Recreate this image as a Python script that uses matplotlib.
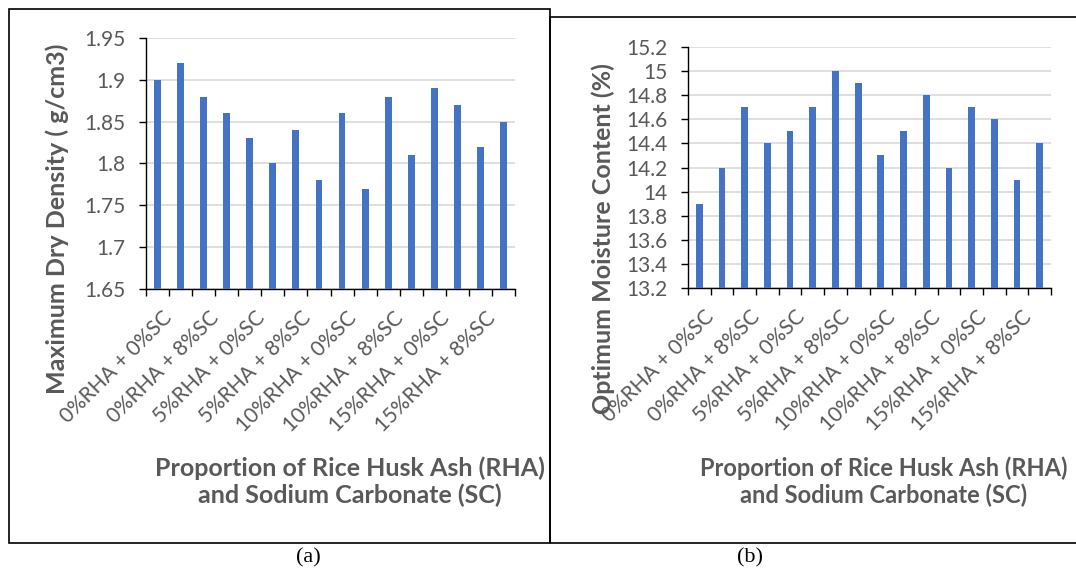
import matplotlib
matplotlib.use('Agg')
import matplotlib.pyplot as plt
from matplotlib.patches import Rectangle
from matplotlib.ticker import FixedLocator, NullFormatter
import matplotlib.transforms as mtransforms

# categories: RHA level + SC level
categorias = ['0%RHA + 0%SC', '0%RHA + 4%SC', '0%RHA + 8%SC', '0%RHA + 12%SC',
              '5%RHA + 0%SC', '5%RHA + 4%SC', '5%RHA + 8%SC', '5%RHA + 12%SC',
              '10%RHA + 0%SC', '10%RHA + 4%SC', '10%RHA + 8%SC', '10%RHA + 12%SC',
              '15%RHA + 0%SC', '15%RHA + 4%SC', '15%RHA + 8%SC', '15%RHA + 12%SC']

densidad = [1.90, 1.92, 1.88, 1.86, 1.83, 1.80, 1.84, 1.78,
            1.86, 1.77, 1.88, 1.81, 1.89, 1.87, 1.82, 1.85]

humedad = [13.9, 14.2, 14.7, 14.4, 14.5, 14.7, 15.0, 14.9,
           14.3, 14.5, 14.8, 14.2, 14.7, 14.6, 14.1, 14.4]

ticks_a = [1.65, 1.70, 1.75, 1.80, 1.85, 1.90, 1.95]
ticks_b = [13.2, 13.4, 13.6, 13.8, 14.0, 14.2, 14.4, 14.6, 14.8, 15.0, 15.2]

titulo_x = 'Proportion of Rice Husk Ash (RHA)\nand Sodium Carbonate (SC)'
titulo_a = 'Maximum Dry Density ( g/cm3)'
titulo_b = 'Optimum Moisture Content (%)'

AZUL = '#4472C4'
GRIS = '#595959'
FUENTE = 'Lato'

W, H = 1076, 574
fig = plt.figure(figsize=(W / 100, H / 100), dpi=100)


def px(x0, y0, x1, y1):
    # pixel box (top-left origin) -> figure fraction rect
    return [x0 / W, 1 - y1 / H, (x1 - x0) / W, (y1 - y0) / H]


def grafico(rect, valores, yticks, ylabel, ylab_pos, xlab_pos, xlab_size):
    ax = fig.add_axes(rect)
    n = len(valores)
    x = list(range(n))
    ax.bar(x, valores, width=0.3, color=AZUL, zorder=3)
    ax.set_xlim(-0.5, n - 0.5)
    ax.set_ylim(yticks[0], yticks[-1])
    ax.set_yticks(yticks)
    ax.set_yticklabels([f'{round(v, 2):g}' for v in yticks],
                       fontsize=15, color=GRIS, family=FUENTE)
    ax.yaxis.grid(True, color='#D9D9D9', linewidth=1.2, zorder=0)
    ax.set_axisbelow(True)

    # ticks at category boundaries, labels drawn separately
    ax.xaxis.set_major_locator(FixedLocator([i - 0.5 for i in range(n + 1)]))
    ax.xaxis.set_major_formatter(NullFormatter())
    ax.tick_params(axis='x', length=5, width=1, color='black', direction='out')
    ax.tick_params(axis='y', length=5, width=1, color='black', direction='out', pad=10)

    for s in ['top', 'right']:
        ax.spines[s].set_visible(False)
    for s in ['left', 'bottom']:
        ax.spines[s].set_color('black')
        ax.spines[s].set_linewidth(1)

    trans = mtransforms.blended_transform_factory(ax.transData, ax.transAxes)
    trans = mtransforms.offset_copy(trans, fig=fig, x=0, y=-19, units='dots')
    for i in range(0, n, 2):
        ax.text(i + 0.2, 0, categorias[i], transform=trans, rotation=45,
                rotation_mode='anchor', ha='right', va='top',
                fontsize=15, color=GRIS, family=FUENTE)

    fig.text(ylab_pos[0] / W, 1 - ylab_pos[1] / H, ylabel, rotation=90,
             ha='center', va='center', fontsize=18, fontweight='bold',
             color=GRIS, family=FUENTE)
    fig.text(xlab_pos[0] / W, 1 - xlab_pos[1] / H, titulo_x, ha='center',
             va='center', fontsize=xlab_size, fontweight='bold', color=GRIS,
             family=FUENTE, linespacing=1.2)
    return ax


grafico(px(146, 38, 515, 289), densidad, ticks_a, titulo_a, (57, 219), (350, 482), 18)
grafico(px(688, 47, 1051, 288), humedad, ticks_b, titulo_b, (603, 239), (884, 482), 17)

# panel frames
fig.patches.append(Rectangle((9 / W, 1 - 543 / H), (550 - 9) / W, (543 - 9) / H,
                             transform=fig.transFigure, fill=False,
                             edgecolor='black', linewidth=1.2))
fig.patches.append(Rectangle((550 / W, 1 - 543 / H), (1085 - 550) / W, (543 - 17) / H,
                             transform=fig.transFigure, fill=False,
                             edgecolor='black', linewidth=1.2, clip_on=False))

fig.text(308 / W, 1 - 558 / H, '(a)', ha='center', va='center',
         fontsize=16, family='Liberation Serif')
fig.text(750 / W, 1 - 558 / H, '(b)', ha='center', va='center',
         fontsize=16, family='Liberation Serif')

fig.savefig('out.png', dpi=100)
